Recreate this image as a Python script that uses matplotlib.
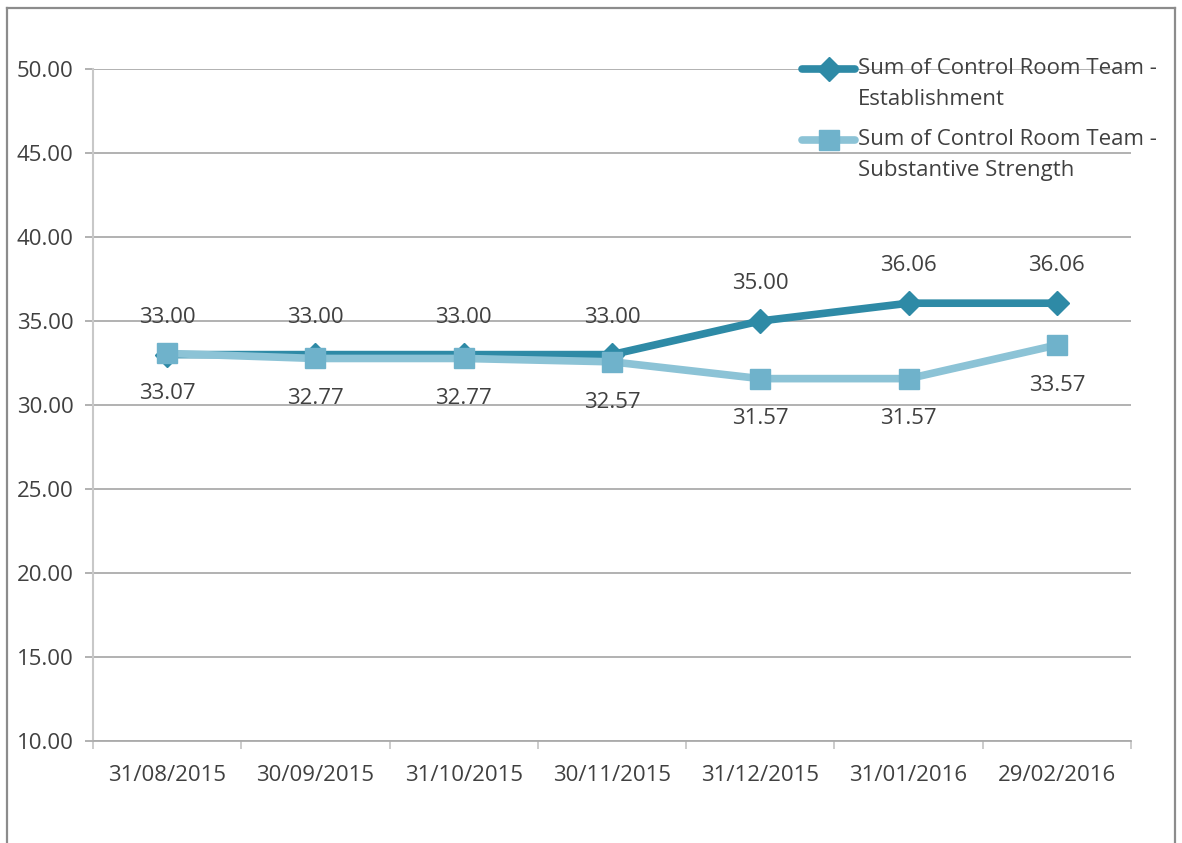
import matplotlib
matplotlib.use("Agg")
import matplotlib.pyplot as plt
from matplotlib.lines import Line2D
from matplotlib.legend_handler import HandlerLine2D

# Monthly headcount figures for the control room team
dates = ["31/08/2015", "30/09/2015", "31/10/2015", "30/11/2015",
         "31/12/2015", "31/01/2016", "29/02/2016"]
establishment = [33.00, 33.00, 33.00, 33.00, 35.00, 36.06, 36.06]
substantive = [33.07, 32.77, 32.77, 32.57, 31.57, 31.57, 33.57]
series_names = ["Sum of Control Room Team -\nEstablishment",
                "Sum of Control Room Team -\nSubstantive Strength"]
y_ticks = [10, 15, 20, 25, 30, 35, 40, 45, 50]

plt.rcParams["font.family"] = ["Open Sans", "DejaVu Sans"]
TEXT = "#404040"
GRID = "#ababab"
C_EST = "#2E8AA6"
C_SUB = "#8CC3D6"
C_SUB_MK = "#6FB2CB"
FS = 16


class FirstLineHandler(HandlerLine2D):
    """Legend line handle aligned with the first row of a two-line label."""

    def __init__(self, shift, **kw):
        super().__init__(**kw)
        self.shift = shift

    def create_artists(self, legend, orig_handle, xdescent, ydescent,
                       width, height, fontsize, trans):
        artists = super().create_artists(legend, orig_handle, xdescent,
                                         ydescent, width, height, fontsize,
                                         trans)
        for a in artists:
            a.set_ydata([y + self.shift for y in a.get_ydata()])
        return artists


W, H = 1182, 843
fig = plt.figure(figsize=(W / 100, H / 100), dpi=100)
ax = fig.add_axes([93 / W, 1 - 741 / H, (1131 - 93) / W, (741 - 69) / H])

x = list(range(len(dates)))
l1, = ax.plot(x, establishment, color=C_EST, lw=5.5, marker="D", ms=12,
              mfc=C_EST, mec=C_EST, solid_capstyle="round", zorder=3,
              label=series_names[0])
l2, = ax.plot(x, substantive, color=C_SUB, lw=5.5, marker="s", ms=14,
              mfc=C_SUB_MK, mec=C_SUB_MK, solid_capstyle="round", zorder=4,
              label=series_names[1])

for xi, v in zip(x, establishment):
    ax.annotate(f"{v:.2f}", (xi, v), xytext=(0, 27), textcoords="offset points",
                ha="center", va="center", fontsize=FS, color=TEXT, zorder=5)
for xi, v in zip(x, substantive):
    ax.annotate(f"{v:.2f}", (xi, v), xytext=(0, -29), textcoords="offset points",
                ha="center", va="center", fontsize=FS, color=TEXT, zorder=5)

ax.set_xlim(-0.5, len(dates) - 0.5)
ax.set_ylim(10, 50)
ax.set_yticks(y_ticks)
ax.set_yticklabels([f"{t:.2f}" for t in y_ticks])
ax.set_xticks(x)
ax.set_xticklabels(dates)
ax.set_xticks([i - 0.5 for i in range(len(dates) + 1)], minor=True)

ax.grid(axis="y", color=GRID, lw=1.3, zorder=1)
ax.set_axisbelow(True)
for side in ("top", "right"):
    ax.spines[side].set_visible(False)
ax.spines["left"].set_color("#c8c8c8")
ax.spines["left"].set_linewidth(1.5)
ax.spines["bottom"].set_color(GRID)
ax.spines["bottom"].set_linewidth(1.3)

ax.tick_params(axis="y", length=6, width=1.3, color=GRID, labelsize=FS,
               labelcolor=TEXT, pad=8)
ax.tick_params(axis="x", which="major", length=0, labelsize=FS,
               labelcolor=TEXT, pad=17)
ax.tick_params(axis="x", which="minor", length=6, width=1.3, color="#c8c8c8")

handler = FirstLineHandler(shift=11.2)
leg = ax.legend(handles=[l1, l2], loc="upper left",
                bbox_to_anchor=(802 / W, 1 - 58 / H),
                bbox_transform=fig.transFigure, frameon=False, fontsize=FS,
                handlelength=2.4, handletextpad=0.1, labelspacing=0.85,
                borderaxespad=0, borderpad=0,
                handler_map={l1: handler, l2: handler})
for t in leg.get_texts():
    t.set_color(TEXT)
    t.set_linespacing(1.63)

# Outer frame around the chart area
frame_kw = dict(transform=fig.transFigure, color="#8c8c8c", lw=1.6)
fig.add_artist(Line2D([7 / W, 7 / W], [0, 1 - 8 / H], **frame_kw))
fig.add_artist(Line2D([7 / W, 1175 / W], [1 - 8 / H, 1 - 8 / H], **frame_kw))
fig.add_artist(Line2D([1175 / W, 1175 / W], [0, 1 - 8 / H], **frame_kw))

fig.savefig("out.png", dpi=100)
